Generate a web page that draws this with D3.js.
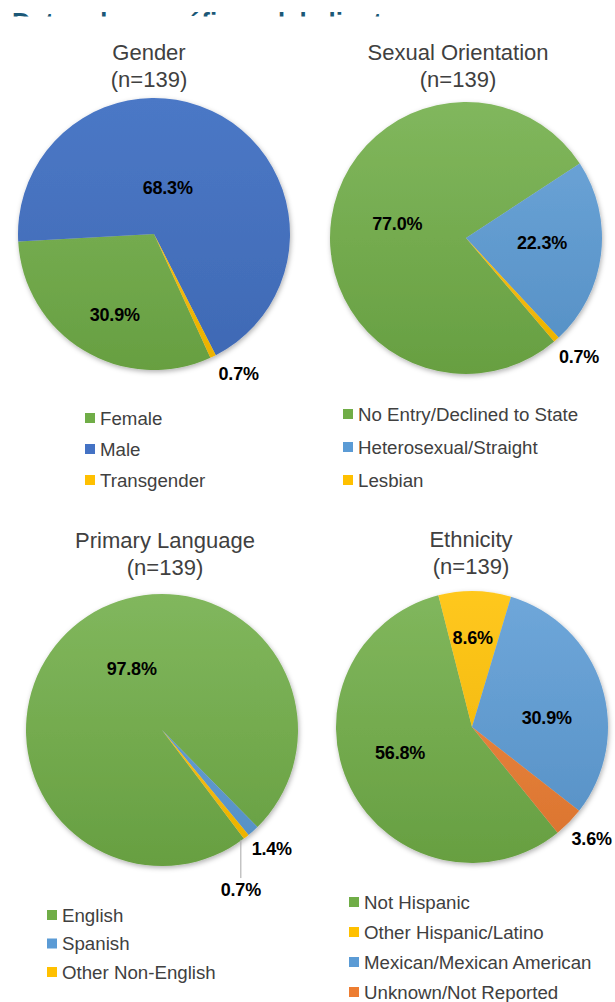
<!DOCTYPE html>
<html>
<head>
<meta charset="utf-8">
<script src="https://cdn.jsdelivr.net/npm/d3@7"></script>
<style>
body { margin: 0; background: #fff; }
svg text { font-family: "Liberation Sans", Arial, sans-serif; }
</style>
</head>
<body>
<svg id="chart"></svg>
<script>
// values (percent of n=139)
var genderLabels = ["Female", "Male", "Transgender"];
var genderValues = [30.9, 68.3, 0.7];

var orientationLabels = ["No Entry/Declined to State", "Heterosexual/Straight", "Lesbian"];
var orientationValues = [77.0, 22.3, 0.7];

var languageLabels = ["English", "Spanish", "Other Non-English"];
var languageValues = [97.8, 1.4, 0.7];

var ethnicityLabels = ["Not Hispanic", "Other Hispanic/Latino", "Mexican/Mexican American", "Unknown/Not Reported"];
var ethnicityValues = [56.8, 8.6, 30.9, 3.6];

var pageTitle = "Datos demográficos del cliente";
var sampleText = "(n=139)";

var green = "#70ad47", blue = "#4472c4", lightBlue = "#5b9bd5", yellow = "#ffc000", orange = "#ed7d31";

var width = 615, height = 1002, radius = 136;

var charts = [
    {title: "Gender", labels: genderLabels, values: genderValues, colors: [green, blue, yellow],
     cx: 154, cy: 234, start: 155.5, outside: [false, false, true], leader: [false, false, false],
     nudge: [[3, 11], [-27, 24], [16, -3]], titleX: 149, titleY: 60,
     legendX: 85, legendY: 418, legendGap: 31},
    {title: "Sexual Orientation", labels: orientationLabels, values: orientationValues, colors: [green, lightBlue, yellow],
     cx: 466, cy: 238, start: 139.6, outside: [false, false, true], leader: [false, false, false],
     nudge: [[12, -3], [-5, -5], [8, 0]], titleX: 458, titleY: 60,
     legendX: 343, legendY: 414, legendGap: 33},
    {title: "Primary Language", labels: languageLabels, values: languageValues, colors: [green, lightBlue, yellow],
     cx: 162, cy: 730, start: 143, outside: [false, true, true], leader: [false, false, true],
     nudge: [[23, 0], [4, 1], [-19, 35]], titleX: 165, titleY: 548,
     legendX: 47, legendY: 915, legendGap: 28.5},
    {title: "Ethnicity", labels: ethnicityLabels, values: ethnicityValues, colors: [green, yellow, lightBlue, orange],
     cx: 472, cy: 727, start: 141, outside: [false, false, false, true], leader: [false, false, false, false],
     nudge: [[1, -11], [-1, -8], [-3, 15], [7, 1]], titleX: 471, titleY: 547,
     legendX: 349, legendY: 902, legendGap: 30}
];

var svg = d3.select("#chart")
    .attr("width", width)
    .attr("height", height);

var defs = svg.append("defs");

// soft shadow under each pie
defs.append("filter")
    .attr("id", "shadow")
    .attr("x", "-10%").attr("y", "-10%")
    .attr("width", "120%").attr("height", "120%")
    .append("feDropShadow")
    .attr("dx", 1).attr("dy", 2)
    .attr("stdDeviation", 2.5)
    .attr("flood-color", "#000")
    .attr("flood-opacity", 0.3);

// light-to-dark shading like the office theme
[green, blue, lightBlue, yellow, orange].forEach(function(c) {
    var g = defs.append("linearGradient")
        .attr("id", "grad" + c.slice(1))
        .attr("gradientUnits", "userSpaceOnUse")
        .attr("x1", 0).attr("y1", -radius)
        .attr("x2", 0).attr("y2", radius);
    g.append("stop").attr("offset", "0%").attr("stop-color", d3.interpolateRgb(c, "#fff")(c == blue ? 0.04 : 0.12));
    g.append("stop").attr("offset", "100%").attr("stop-color", d3.interpolateRgb(c, "#000")(0.08));
});

// page heading, mostly hidden under the chart picture
defs.append("clipPath")
    .attr("id", "headClip")
    .append("rect")
    .attr("x", 0).attr("y", 0)
    .attr("width", width).attr("height", 16.5);

svg.append("text")
    .attr("clip-path", "url(#headClip)")
    .attr("x", 12)
    .attr("y", 31)
    .attr("font-size", "26px")
    .attr("font-weight", "bold")
    .attr("fill", "#1b5877")
    .text(pageTitle);

var arc = d3.arc()
    .innerRadius(0)
    .outerRadius(radius);

function polar(angle, dist) {
    return [dist * Math.sin(angle), -dist * Math.cos(angle)];
}

charts.forEach(function(chart) {
    var start = chart.start * Math.PI / 180;
    var pie = d3.pie()
        .sort(null)
        .startAngle(start)
        .endAngle(start + 2 * Math.PI);

    var arcs = pie(chart.values);

    // titles
    svg.append("text")
        .attr("x", chart.titleX)
        .attr("y", chart.titleY)
        .attr("text-anchor", "middle")
        .attr("font-size", "22px")
        .attr("fill", "#404040")
        .text(chart.title);

    svg.append("text")
        .attr("x", chart.titleX)
        .attr("y", chart.titleY + 27)
        .attr("text-anchor", "middle")
        .attr("font-size", "22px")
        .attr("fill", "#404040")
        .text(sampleText);

    var g = svg.append("g")
        .attr("transform", "translate(" + chart.cx + "," + chart.cy + ")");

    g.append("g")
        .attr("filter", "url(#shadow)")
        .selectAll("path")
        .data(arcs)
        .enter()
        .append("path")
        .attr("d", arc)
        .attr("fill", function(d, i) { return "url(#grad" + chart.colors[i].slice(1) + ")"; });

    // value labels
    arcs.forEach(function(d, i) {
        var mid = (d.startAngle + d.endAngle) / 2;
        var dist = chart.outside[i] ? radius + 22 : radius * 0.6;
        var p = polar(mid, dist);
        var lx = p[0] + chart.nudge[i][0],
            ly = p[1] + chart.nudge[i][1];

        if (chart.leader[i]) {
            var e = polar(mid, radius);
            g.append("line")
                .attr("x1", lx).attr("y1", e[1] + 3)
                .attr("x2", lx).attr("y2", ly - 11)
                .attr("stroke", "#a6a6a6")
                .attr("stroke-width", 1);
        }

        g.append("text")
            .attr("x", lx)
            .attr("y", ly)
            .attr("dy", "0.36em")
            .attr("text-anchor", "middle")
            .attr("font-size", "18px")
            .attr("font-weight", "bold")
            .attr("letter-spacing", "-0.2px")
            .attr("fill", "#000")
            .text(d3.format(".1f")(d.data) + "%");
    });

    // legend
    var legend = svg.append("g")
        .attr("transform", "translate(" + chart.legendX + "," + chart.legendY + ")");

    var item = legend.selectAll("g")
        .data(chart.labels)
        .enter()
        .append("g")
        .attr("transform", function(d, i) { return "translate(0," + (i * chart.legendGap) + ")"; });

    item.append("rect")
        .attr("x", 0)
        .attr("y", -5)
        .attr("width", 10)
        .attr("height", 10)
        .attr("fill", function(d, i) { return chart.colors[i]; });

    item.append("text")
        .attr("x", 15)
        .attr("y", 0)
        .attr("dy", "0.36em")
        .attr("font-size", "18.7px")
        .attr("fill", "#404040")
        .text(function(d) { return d; });
});
</script>
</body>
</html>
